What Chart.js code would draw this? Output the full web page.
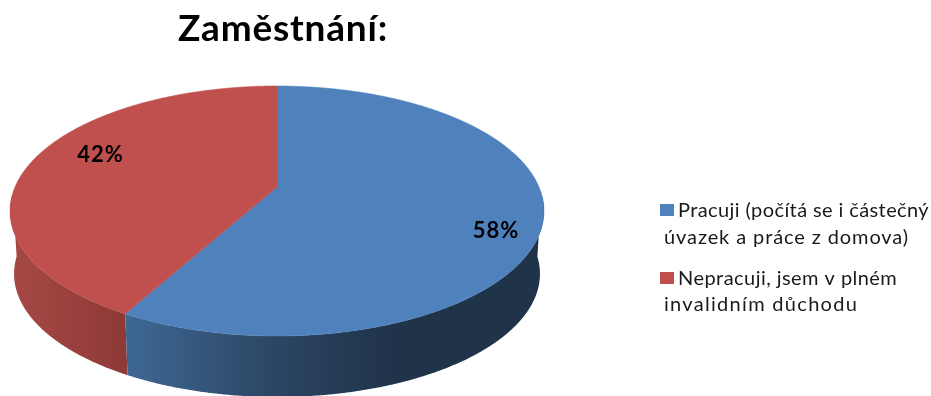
<!DOCTYPE html>
<html lang="cs">
<head>
<meta charset="utf-8">
<title>Zaměstnání</title>
<style>
  html, body { margin: 0; padding: 0; background: #fff; }
  #wrap { width: 931px; height: 396px; position: relative; overflow: hidden; }
</style>
<script src="https://cdn.jsdelivr.net/npm/chart.js@4/dist/chart.umd.min.js"></script>
</head>
<body>
<div id="wrap"><canvas id="c" width="931" height="396"></canvas></div>
<script>
// Values and labels
const titleText = 'Zaměstnání:';
const legendLines = [
  ['Pracuji (počítá se i částečný', 'úvazek a práce z domova)'],
  ['Nepracuji, jsem v plném', 'invalidním důchodu']
];
const shares = [58, 42];
const sliceColors = ['#4F81BD', '#C0504D'];

// Side wall shading, left to right across the pie
const wallStops = [
  [['#3F6896', 0.22], ['#2B4563', 0.5], ['#1F3349', 0.72], ['#1F3349', 1]],
  [['#A84A47', 0], ['#8E3A37', 0.22], ['#8E3A37', 1]]
];

// Perspective view of the pie disc
const view = { cx: 277, cy: 187, a: 262, b: 120.4, k: 0.192, wallScale: 0.985, wallShift: 66, wallFrom: 0.05 };
const labelNudge = [[8, 19], [19, -9]];
const legendLayout = {
  swatchX: 660, swatchSize: 14, textX: 678, wrapX: 664,
  baselines: [[217, 244], [285, 311]],
  tracking: [[0.4, 0.9], [0.45, 1.3]]
};

// theta is measured clockwise from the top of the disc, r from 0 to 1
function project(theta, r) {
  const u = Math.sin(theta) * r, v = -Math.cos(theta) * r;
  const w = 1 - view.k * v;
  return { x: view.cx + view.a * u / w, y: view.cy + view.b * v / w };
}
function lowerRim(p) {
  return { x: view.cx + (p.x - view.cx) * view.wallScale, y: p.y * view.wallScale + view.wallShift };
}

const pie3d = {
  id: 'pie3d',
  beforeDraw(chart) {
    chart.ctx.letterSpacing = '0.8px';
  },
  beforeDatasetsDraw(chart) {
    const ctx = chart.ctx;
    ctx.letterSpacing = '0px';
    const arcs = chart.getDatasetMeta(0).data;
    const span = view.a * 2.1;
    const x0 = view.cx - span / 2;

    // side walls first, only the part of the rim that faces the viewer
    [1, 0].forEach(i => {
      const arc = arcs[i];
      const t0 = arc.startAngle + Math.PI / 2, t1 = arc.endAngle + Math.PI / 2;
      const g = ctx.createLinearGradient(x0, 0, x0 + span, 0);
      wallStops[i].forEach(([col, at]) => g.addColorStop(at, col));
      const upper = [];
      const n = Math.ceil((t1 - t0) / 0.005);
      for (let s = 0; s <= n; s++) {
        const t = t0 + (t1 - t0) * s / n;
        if (-Math.cos(t) >= view.wallFrom) upper.push(project(t, 1));
      }
      ctx.beginPath();
      upper.forEach((p, j) => (j ? ctx.lineTo(p.x, p.y) : ctx.moveTo(p.x, p.y)));
      upper.slice().reverse().forEach(p => {
        const q = lowerRim(p);
        ctx.lineTo(q.x, q.y);
      });
      ctx.closePath();
      ctx.fillStyle = g;
      ctx.fill();
    });

    // top surface of each slice
    arcs.forEach(arc => {
      const t0 = arc.startAngle + Math.PI / 2, t1 = arc.endAngle + Math.PI / 2;
      ctx.beginPath();
      ctx.moveTo(view.cx, view.cy);
      const n = Math.ceil((t1 - t0) / 0.005);
      for (let s = 0; s <= n; s++) {
        const p = project(t0 + (t1 - t0) * s / n, 1);
        ctx.lineTo(p.x, p.y);
      }
      ctx.closePath();
      ctx.fillStyle = arc.options.backgroundColor;
      ctx.strokeStyle = arc.options.backgroundColor;
      ctx.lineWidth = 0.5;
      ctx.fill(); ctx.stroke();
    });

    // percentage labels
    ctx.save();
    ctx.font = 'bold 22px Lato';
    ctx.letterSpacing = '1px';
    ctx.fillStyle = '#000';
    ctx.textAlign = 'center';
    ctx.textBaseline = 'middle';
    arcs.forEach((arc, i) => {
      const mid = (arc.startAngle + arc.endAngle) / 2 + Math.PI / 2;
      const p = project(mid, 0.8);
      ctx.fillText(shares[i] + '%', p.x + labelNudge[i][0], p.y + labelNudge[i][1]);
    });
    ctx.restore();

    // legend with the wrapped line hanging under the swatch
    ctx.save();
    ctx.font = '20px Lato';
    ctx.textAlign = 'left';
    ctx.textBaseline = 'alphabetic';
    legendLines.forEach((lines, i) => {
      const [b1, b2] = legendLayout.baselines[i];
      const [s1, s2] = legendLayout.tracking[i];
      ctx.fillStyle = sliceColors[i];
      ctx.fillRect(legendLayout.swatchX, b1 - 13, legendLayout.swatchSize, legendLayout.swatchSize - 2);
      ctx.fillStyle = '#1a1a1a';
      ctx.letterSpacing = s1 + 'px';
      ctx.fillText(lines[0], legendLayout.textX, b1);
      ctx.letterSpacing = s2 + 'px';
      ctx.fillText(lines[1], legendLayout.wrapX, b2);
    });
    ctx.restore();
    return false;
  }
};

new Chart(document.getElementById('c'), {
  type: 'pie',
  data: {
    labels: legendLines.map(l => l.join(' ')),
    datasets: [{ data: shares, backgroundColor: sliceColors, borderWidth: 0 }]
  },
  options: {
    responsive: false,
    animation: false,
    layout: { padding: { top: 7, right: 365 } },
    plugins: {
      legend: { display: false },
      tooltip: { enabled: false },
      title: {
        display: true,
        text: titleText,
        color: '#000',
        font: { family: 'Lato', size: 37, weight: 'bold' },
        padding: 0
      }
    }
  },
  plugins: [pie3d]
});
</script>
</body>
</html>
